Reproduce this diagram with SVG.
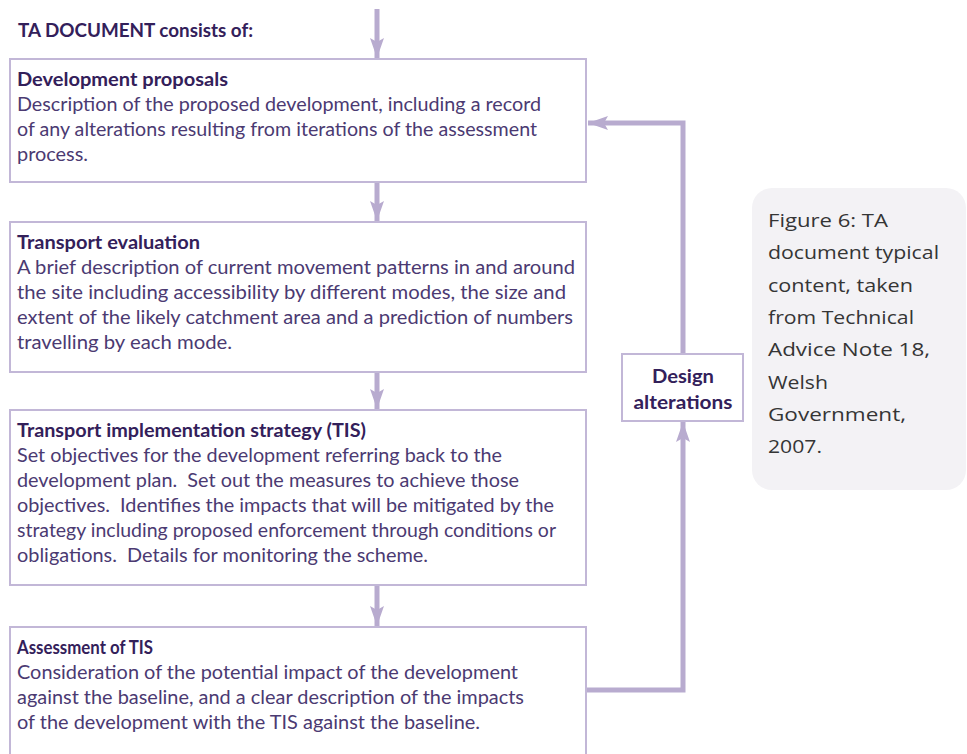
<svg xmlns="http://www.w3.org/2000/svg" width="967" height="754" viewBox="0 0 967 754">
<defs>
<style>
.box{fill:#ffffff;stroke:#c2b7d7;stroke-width:2}
.conn{fill:none;stroke:#b8abcf;stroke-width:5}
.head{fill:#b8abcf}
.t{font-family:Lato,"Noto Sans","Liberation Sans",sans-serif;font-size:18.5px;font-weight:bold;fill:#33205a}
.b{font-family:Lato,"Noto Sans","Liberation Sans",sans-serif;font-size:18.5px;fill:#4b3a72}
.cap{font-family:"Open Sans","Noto Sans","Liberation Sans",sans-serif;font-size:18.5px;fill:#353535}
</style>
<marker id="ah" viewBox="0 0 20 14" refX="20" refY="7" markerWidth="20" markerHeight="14" markerUnits="userSpaceOnUse" orient="auto">
<path d="M0,0 L20,7 L0,14 L4,7 Z" class="head"/>
</marker>
</defs>
<rect width="967" height="754" fill="#ffffff"/>

<g id="connectors">
<line class="conn" x1="377" y1="9" x2="377" y2="58" marker-end="url(#ah)"/>
<line class="conn" x1="377" y1="183" x2="377" y2="221" marker-end="url(#ah)"/>
<line class="conn" x1="377" y1="373" x2="377" y2="409" marker-end="url(#ah)"/>
<line class="conn" x1="377" y1="586" x2="377" y2="626" marker-end="url(#ah)"/>
<polyline class="conn" points="587,690 683,690 683,422" marker-end="url(#ah)"/>
<polyline class="conn" points="683,354 683,123 588,123" marker-end="url(#ah)"/>
</g>

<g id="heading">
<text class="t" x="18" y="37" textLength="235" lengthAdjust="spacingAndGlyphs">TA DOCUMENT consists of:</text>
</g>

<g id="development-proposals">
<rect class="box" x="10" y="59" width="576" height="123"/>
<text class="t" x="17" y="86" textLength="211" lengthAdjust="spacingAndGlyphs">Development proposals</text>
<text class="b" x="17" y="111" textLength="524" lengthAdjust="spacingAndGlyphs">Description of the proposed development, including a record</text>
<text class="b" x="17" y="136" textLength="520" lengthAdjust="spacingAndGlyphs">of any alterations resulting from iterations of the assessment</text>
<text class="b" x="17" y="161" textLength="71" lengthAdjust="spacingAndGlyphs">process.</text>
</g>

<g id="transport-evaluation">
<rect class="box" x="10" y="222" width="576" height="150"/>
<text class="t" x="17" y="249" textLength="183" lengthAdjust="spacingAndGlyphs">Transport evaluation</text>
<text class="b" x="17" y="274" textLength="558" lengthAdjust="spacingAndGlyphs">A brief description of current movement patterns in and around</text>
<text class="b" x="17" y="299" textLength="549" lengthAdjust="spacingAndGlyphs">the site including accessibility by different modes, the size and</text>
<text class="b" x="17" y="324" textLength="556" lengthAdjust="spacingAndGlyphs">extent of the likely catchment area and a prediction of numbers</text>
<text class="b" x="17" y="349" textLength="215" lengthAdjust="spacingAndGlyphs">travelling by each mode.</text>
</g>

<g id="transport-implementation-strategy">
<rect class="box" x="10" y="410" width="576" height="175"/>
<text class="t" x="17" y="437" textLength="349" lengthAdjust="spacingAndGlyphs">Transport implementation strategy (TIS)</text>
<text class="b" x="17" y="462" textLength="485" lengthAdjust="spacingAndGlyphs">Set objectives for the development referring back to the</text>
<text class="b" x="17" y="487" textLength="502" lengthAdjust="spacingAndGlyphs" xml:space="preserve">development plan.  Set out the measures to achieve those</text>
<text class="b" x="17" y="512" textLength="537" lengthAdjust="spacingAndGlyphs" xml:space="preserve">objectives.  Identifies the impacts that will be mitigated by the</text>
<text class="b" x="17" y="537" textLength="539" lengthAdjust="spacingAndGlyphs">strategy including proposed enforcement through conditions or</text>
<text class="b" x="17" y="562" textLength="411" lengthAdjust="spacingAndGlyphs" xml:space="preserve">obligations.  Details for monitoring the scheme.</text>
</g>

<g id="assessment-of-tis">
<path class="box" d="M10,760 L10,627 L586,627 L586,760"/>
<text class="t" x="17" y="654" textLength="136" lengthAdjust="spacingAndGlyphs">Assessment of TIS</text>
<text class="b" x="17" y="679" textLength="501" lengthAdjust="spacingAndGlyphs">Consideration of the potential impact of the development</text>
<text class="b" x="17" y="704" textLength="507" lengthAdjust="spacingAndGlyphs">against the baseline, and a clear description of the impacts</text>
<text class="b" x="17" y="729" textLength="463" lengthAdjust="spacingAndGlyphs">of the development with the TIS against the baseline.</text>
</g>

<g id="design-alterations">
<rect class="box" x="622" y="354" width="121" height="67"/>
<text class="t" x="683" y="383" text-anchor="middle" textLength="62" lengthAdjust="spacingAndGlyphs">Design</text>
<text class="t" x="683" y="409" text-anchor="middle" textLength="99" lengthAdjust="spacingAndGlyphs">alterations</text>
</g>

<g id="caption">
<rect x="752" y="188" width="214" height="302" rx="20" ry="20" fill="#f3f2f5"/>
<text class="cap" x="768" y="227" textLength="120" lengthAdjust="spacingAndGlyphs">Figure 6: TA</text>
<text class="cap" x="768" y="259" textLength="171" lengthAdjust="spacingAndGlyphs">document typical</text>
<text class="cap" x="768" y="292" textLength="145" lengthAdjust="spacingAndGlyphs">content, taken</text>
<text class="cap" x="768" y="324" textLength="146" lengthAdjust="spacingAndGlyphs">from Technical</text>
<text class="cap" x="768" y="356" textLength="162" lengthAdjust="spacingAndGlyphs">Advice Note 18,</text>
<text class="cap" x="768" y="389" textLength="60" lengthAdjust="spacingAndGlyphs">Welsh</text>
<text class="cap" x="768" y="421" textLength="138" lengthAdjust="spacingAndGlyphs">Government,</text>
<text class="cap" x="768" y="453" textLength="54" lengthAdjust="spacingAndGlyphs">2007.</text>
</g>
</svg>
